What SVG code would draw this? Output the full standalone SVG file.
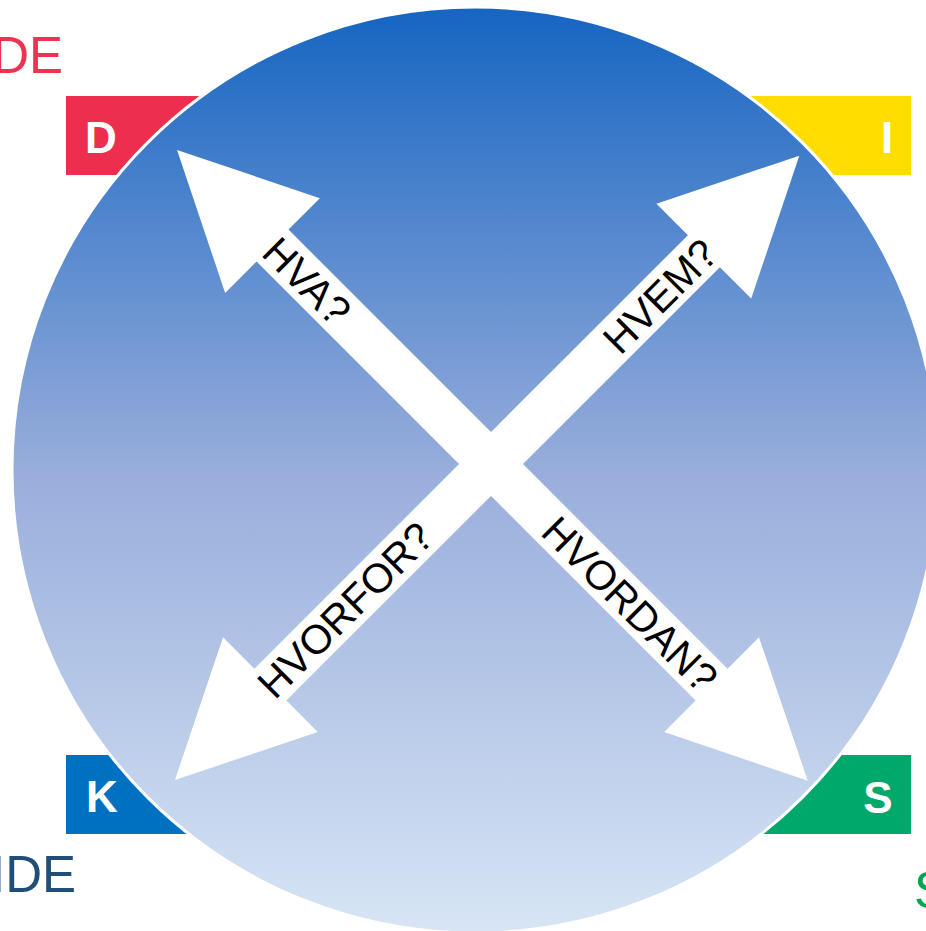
<svg xmlns="http://www.w3.org/2000/svg" width="926" height="931" viewBox="0 0 926 931">
<defs>
<linearGradient id="bg" x1="0" y1="0" x2="0" y2="1">
<stop offset="0" stop-color="#1565C2"/>
<stop offset="0.5" stop-color="#98ADDB"/>
<stop offset="1" stop-color="#D7E5F5"/>
</linearGradient>
</defs>
<style>
.side{font-family:"Liberation Sans",Arial,sans-serif;font-size:51px}
.box{font-family:"Liberation Sans",Arial,sans-serif;font-size:44px;font-weight:bold;fill:#fff;text-anchor:middle}
.lbl{font-family:"Liberation Sans",Arial,sans-serif;font-size:41px;fill:#000;text-anchor:middle}
.arrow{fill:#fff}
</style>
<rect width="926" height="931" fill="#fff"/>
<g id="side-labels">
<text class="side" x="63" y="73" text-anchor="end" fill="#EE3350">DE</text>
<text class="side" x="924" y="75" fill="#F8C840">I</text>
<text class="side" x="76" y="892" text-anchor="end" fill="#1F4E79">IDE</text>
<text class="side" x="914" y="908" fill="#00A650">S</text>
</g>
<g id="box-D"><rect x="66" y="96" width="180" height="79" fill="#EE2E4E"/><text class="box" x="101" y="153">D</text></g>
<g id="box-I"><rect x="720" y="96" width="191" height="79" fill="#FFDD00"/><text class="box" x="887" y="153">I</text></g>
<g id="box-K"><rect x="66" y="755" width="180" height="79" fill="#0070C0"/><text class="box" x="102" y="812">K</text></g>
<g id="box-S"><rect x="720" y="755" width="191" height="79" fill="#00A86B"/><text class="box" x="878" y="813">S</text></g>
<g id="circle"><circle cx="475" cy="470" r="463" fill="url(#bg)" stroke="#fff" stroke-width="3"/></g>
<g id="connectors">
<polygon class="arrow" transform="translate(491,464) rotate(-135)" points="0,-22.6 309,-22.6 309,-67 444,0 309,67 309,22.6 0,22.6"/>
<polygon class="arrow" transform="translate(491,464) rotate(-45)" points="0,-22.6 301,-22.6 301,-67 436,0 301,67 301,22.6 0,22.6"/>
<polygon class="arrow" transform="translate(491,464) rotate(135)" points="0,-22.6 312,-22.6 312,-67 447,0 312,67 312,22.6 0,22.6"/>
<polygon class="arrow" transform="translate(491,464) rotate(45)" points="0,-22.6 312,-22.6 312,-67 448,0 312,67 312,22.6 0,22.6"/>
<text class="lbl" transform="translate(307,281) rotate(45)" y="14.5">HVA?</text>
<text class="lbl" transform="translate(660,296) rotate(-45)" y="14.5">HVEM?</text>
<text class="lbl" transform="translate(345,610) rotate(-45)" y="14.5">HVORFOR?</text>
<text class="lbl" transform="translate(630,604) rotate(45)" y="14.5">HVORDAN?</text>
</g>
</svg>
